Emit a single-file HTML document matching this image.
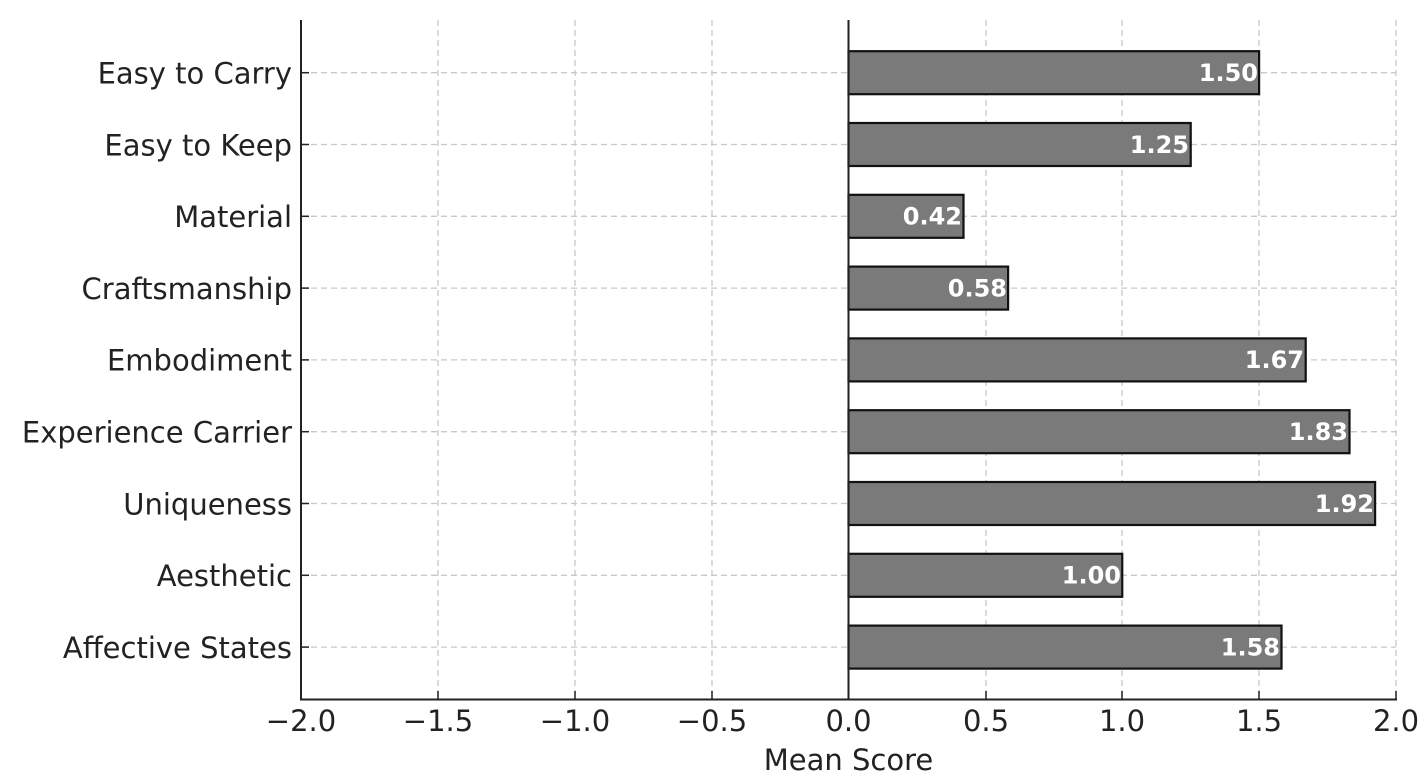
<!DOCTYPE html>
<html><head><meta charset="utf-8"><style>body{margin:0;background:#fff}svg{display:block}</style></head>
<body>
<svg width="1428" height="784" xmlns="http://www.w3.org/2000/svg" font-family="DejaVu Sans, sans-serif">
<g stroke="#c8c8c8" stroke-width="1.3" stroke-dasharray="6,4">
<line x1="438" y1="20" x2="438" y2="700"/><line x1="575" y1="20" x2="575" y2="700"/><line x1="712" y1="20" x2="712" y2="700"/><line x1="986" y1="20" x2="986" y2="700"/><line x1="1122" y1="20" x2="1122" y2="700"/><line x1="1259" y1="20" x2="1259" y2="700"/><line x1="1396" y1="20" x2="1396" y2="700"/>
<line x1="301" y1="72.7" x2="1396" y2="72.7"/><line x1="301" y1="144.5" x2="1396" y2="144.5"/><line x1="301" y1="216.3" x2="1396" y2="216.3"/><line x1="301" y1="288.1" x2="1396" y2="288.1"/><line x1="301" y1="359.9" x2="1396" y2="359.9"/><line x1="301" y1="431.7" x2="1396" y2="431.7"/><line x1="301" y1="503.5" x2="1396" y2="503.5"/><line x1="301" y1="575.3" x2="1396" y2="575.3"/><line x1="301" y1="647.1" x2="1396" y2="647.1"/>
</g>
<g fill="#7a7a7a" stroke="#111" stroke-width="2.2">
<rect x="848.5" y="51.2" width="410.6" height="43"/>
<rect x="848.5" y="123" width="342.2" height="43"/>
<rect x="848.5" y="194.8" width="115" height="43"/>
<rect x="848.5" y="266.6" width="159.6" height="43"/>
<rect x="848.5" y="338.4" width="457.2" height="43"/>
<rect x="848.5" y="410.2" width="501" height="43"/>
<rect x="848.5" y="482" width="526.6" height="43"/>
<rect x="848.5" y="553.8" width="273.75" height="43"/>
<rect x="848.5" y="625.6" width="433" height="43"/>
</g>
<g fill="#fff" font-weight="bold" font-size="24" text-anchor="end">
<text x="1258" y="81">1.50</text><text x="1189" y="152.8">1.25</text><text x="962" y="224.6">0.42</text><text x="1007" y="296.4">0.58</text><text x="1304" y="368.2">1.67</text><text x="1348" y="440">1.83</text><text x="1374" y="511.8">1.92</text><text x="1121" y="583.6">1.00</text><text x="1280" y="655.4">1.58</text>
</g>
<g stroke="#222" stroke-width="2">
<line x1="848.5" y1="20" x2="848.5" y2="700"/>
<line x1="301" y1="20" x2="301" y2="700"/>
<line x1="300" y1="699.5" x2="1397" y2="699.5"/>
</g>
<g stroke="#222" stroke-width="1.5">
<line x1="301" y1="72.7" x2="309" y2="72.7"/><line x1="301" y1="144.5" x2="309" y2="144.5"/><line x1="301" y1="216.3" x2="309" y2="216.3"/><line x1="301" y1="288.1" x2="309" y2="288.1"/><line x1="301" y1="359.9" x2="309" y2="359.9"/><line x1="301" y1="431.7" x2="309" y2="431.7"/><line x1="301" y1="503.5" x2="309" y2="503.5"/><line x1="301" y1="575.3" x2="309" y2="575.3"/><line x1="301" y1="647.1" x2="309" y2="647.1"/>
<line x1="438" y1="691" x2="438" y2="700"/><line x1="575" y1="691" x2="575" y2="700"/><line x1="712" y1="691" x2="712" y2="700"/><line x1="848.5" y1="691" x2="848.5" y2="700"/><line x1="986" y1="691" x2="986" y2="700"/><line x1="1122" y1="691" x2="1122" y2="700"/><line x1="1259" y1="691" x2="1259" y2="700"/><line x1="1396" y1="691" x2="1396" y2="700"/>
</g>
<g fill="#222" font-size="29" text-anchor="end">
<text x="292" y="83.5">Easy to Carry</text><text x="292" y="155.3">Easy to Keep</text><text x="292" y="227.1">Material</text><text x="292" y="298.9">Craftsmanship</text><text x="292" y="370.7">Embodiment</text><text x="292" y="442.5">Experience Carrier</text><text x="292" y="514.3">Uniqueness</text><text x="292" y="586.1">Aesthetic</text><text x="292" y="657.9">Affective States</text>
</g>
<g fill="#222" font-size="29" text-anchor="middle">
<text x="301" y="731">−2.0</text><text x="438" y="731">−1.5</text><text x="575" y="731">−1.0</text><text x="712" y="731">−0.5</text><text x="848.5" y="731">0.0</text><text x="986" y="731">0.5</text><text x="1122" y="731">1.0</text><text x="1259" y="731">1.5</text><text x="1396" y="731">2.0</text>
<text x="848.5" y="770">Mean Score</text>
</g>
</svg>
</body></html>
